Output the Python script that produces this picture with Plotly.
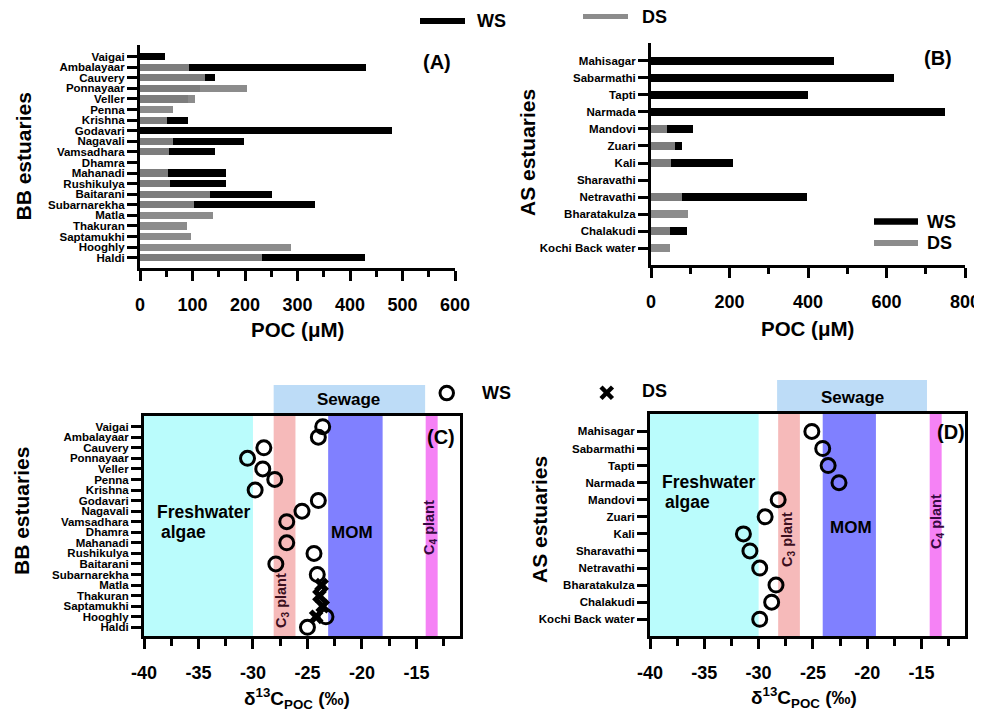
import plotly.graph_objects as go

# ---------------- data ----------------
bb_estuaries = ["Vaigai", "Ambalayaar", "Cauvery", "Ponnayaar", "Veller", "Penna", "Krishna",
                "Godavari", "Nagavali", "Vamsadhara", "Dhamra", "Mahanadi", "Rushikulya",
                "Baitarani", "Subarnarekha", "Matla", "Thakuran", "Saptamukhi", "Hooghly", "Haldi"]
bb_poc_ws = [48, 431, 142, 115, 91, None, 91, 480, 199, 142, None, 163, 164, 252, 334,
             None, None, None, None, 429]
bb_poc_ds = [None, 93, 123, 204, 105, 63, 51, None, 62, 56, None, 54, 57, 133, 102,
             139, 90, 98, 288, 232]

as_estuaries = ["Mahisagar", "Sabarmathi", "Tapti", "Narmada", "Mandovi", "Zuari", "Kali",
                "Sharavathi", "Netravathi", "Bharatakulza", "Chalakudi", "Kochi Back water"]
as_poc_ws = [467, 620, 400, 750, 107, 78, 209, None, 398, None, 91, None]
as_poc_ds = [None, None, None, None, 42, 62, 52, None, 78, 95, 48, 48]

bb_d13c_ws = [-23.6, -24.0, -29.0, -30.5, -29.1, -28.0, -29.8, -24.0, -25.5, -26.9, None,
              -26.9, -24.4, -27.9, -24.1, None, None, None, -23.3, -25.0]
bb_d13c_ds = [None, None, None, None, None, None, None, None, None, None, None,
              None, None, None, None, -23.7, -23.9, -23.6, -24.2, None]
as_d13c_ws = [-25.1, -24.1, -23.6, -22.6, -28.2, -29.4, -31.4, -30.8, -29.9, -28.4, -28.8, -29.9]

d13c_tick_values = [-40, -35, -30, -25, -20, -15]
d13c_tick_labels = ["-40", "-35", "-30", "-25", "-20", "-15"]

# end-member source ranges (d13C, ‰) for panels C and D
source_names = ["Freshwater", "C3", "MOM", "C4"]
source_colors = ["#bafcfc", "#f6baba", "#8080ff", "#f582f5"]
c_source_min = [-40, -28.1, -23.1, -14.15]
c_source_max = [-30, -26.1, -18.1, -13.05]
d_source_min = [-40, -28.2, -24.1, -14.25]
d_source_max = [-30, -26.2, -19.2, -13.15]
c_sewage = [-28.1, -14.2]
d_sewage = [-28.3, -14.5]

# ---------------- helpers ----------------
# the page body has an 8 px margin, so the figure starts at (8, 8) in the window
OFF = 8
W, H = 982 - OFF, 713 - OFF
def px(x):
    return (x - OFF) / W
def py(y):
    return 1 - (y - OFF) / H

FONT = "Liberation Sans"
BLACK = "black"
DS_GRAY = "rgba(133,133,133,0.94)"

fig = go.Figure()

# Panel A bars
fig.add_trace(go.Bar(y=bb_estuaries, x=bb_poc_ws, orientation="h", width=0.68,
                     marker=dict(color=BLACK, line=dict(width=0)),
                     xaxis="x", yaxis="y", showlegend=False, name="WS"))
fig.add_trace(go.Bar(y=bb_estuaries, x=bb_poc_ds, orientation="h", width=0.68,
                     marker=dict(color=DS_GRAY, line=dict(width=0)),
                     xaxis="x", yaxis="y", showlegend=False, name="DS"))
# Panel B bars
fig.add_trace(go.Bar(y=as_estuaries, x=as_poc_ws, orientation="h", width=0.45,
                     marker=dict(color=BLACK, line=dict(width=0)),
                     xaxis="x2", yaxis="y2", showlegend=False, name="WS"))
fig.add_trace(go.Bar(y=as_estuaries, x=as_poc_ds, orientation="h", width=0.45,
                     marker=dict(color=DS_GRAY, line=dict(width=0)),
                     xaxis="x2", yaxis="y2", showlegend=False, name="DS"))
# Panel C points
fig.add_trace(go.Scatter(x=bb_d13c_ds, y=bb_estuaries, mode="markers",
                         marker=dict(symbol="x", size=13, color=BLACK, line=dict(width=0)),
                         xaxis="x3", yaxis="y3", showlegend=False, name="DS"))
fig.add_trace(go.Scatter(x=bb_d13c_ws, y=bb_estuaries, mode="markers",
                         marker=dict(symbol="circle-open", size=14, color=BLACK, line=dict(width=3)),
                         xaxis="x3", yaxis="y3", showlegend=False, name="WS"))
# Panel D points
fig.add_trace(go.Scatter(x=as_d13c_ws, y=as_estuaries, mode="markers",
                         marker=dict(symbol="circle-open", size=14, color=BLACK, line=dict(width=3)),
                         xaxis="x4", yaxis="y4", showlegend=False, name="WS"))

tickfont_bar_x = dict(family=FONT, size=18, color=BLACK, weight="bold")
tickfont_cat = dict(family=FONT, size=11.5, color=BLACK, weight="bold")

common_x = dict(showgrid=False, zeroline=False, showline=True, linewidth=3, linecolor=BLACK,
                ticks="outside", ticklen=10, tickwidth=3, tickcolor=BLACK,
                ticklabelstandoff=8, automargin=False)
common_y = dict(showgrid=False, zeroline=False, showline=True, linewidth=3, linecolor=BLACK,
                ticks="outside", ticklen=10, tickwidth=3, tickcolor=BLACK,
                type="category", categoryorder="array", tickfont=tickfont_cat,
                tickmode="array", automargin=False)

fig.update_layout(
    width=W, height=H, margin=dict(l=0, r=0, t=0, b=0, pad=0, autoexpand=False),
    paper_bgcolor="white", plot_bgcolor="white",
    barmode="overlay", bargap=0,
    font=dict(family=FONT, color=BLACK),
    xaxis=dict(domain=[px(140), px(455)], anchor="y", range=[0, 600], tick0=0, dtick=100,
               tickfont=tickfont_bar_x,
               minor=dict(tick0=0, dtick=50, ticks="outside", ticklen=6, tickwidth=3,
                          tickcolor=BLACK, showgrid=False),
               **common_x),
    yaxis=dict(domain=[py(268), py(45)], anchor="x", range=[-0.97, 20.1],
               categoryarray=bb_estuaries[::-1], tickvals=bb_estuaries, ticktext=bb_estuaries,
               **common_y),
    xaxis2=dict(domain=[px(651), px(965)], anchor="y2", range=[0, 800], tick0=0, dtick=200,
                tickfont=tickfont_bar_x,
                minor=dict(tick0=0, dtick=100, ticks="outside", ticklen=6, tickwidth=3,
                           tickcolor=BLACK, showgrid=False),
                **common_x),
    yaxis2=dict(domain=[py(265), py(43)], anchor="x2", range=[-0.98, 12.04],
                categoryarray=as_estuaries[::-1], tickvals=as_estuaries, ticktext=as_estuaries,
                **common_y),
    xaxis3=dict(domain=[px(144), px(460)], anchor="y3", range=[-40, -11], mirror=True,
                tickmode="array", tickvals=d13c_tick_values, ticktext=d13c_tick_labels,
                tickfont=tickfont_bar_x,
                minor=dict(tickmode="linear", tick0=-40, dtick=2.5, ticks="outside", ticklen=7,
                           tickwidth=3, tickcolor=BLACK, showgrid=False),
                **common_x),
    yaxis3=dict(domain=[py(636), py(416)], anchor="x3", range=[-0.82, 20.01], mirror=True,
                categoryarray=bb_estuaries[::-1], tickvals=bb_estuaries, ticktext=bb_estuaries,
                **common_y),
    xaxis4=dict(domain=[px(650), px(965)], anchor="y4", range=[-40, -11], mirror=True,
                tickmode="array", tickvals=d13c_tick_values, ticktext=d13c_tick_labels,
                tickfont=tickfont_bar_x,
                minor=dict(tickmode="linear", tick0=-40, dtick=2.5, ticks="outside", ticklen=7,
                           tickwidth=3, tickcolor=BLACK, showgrid=False),
                **common_x),
    yaxis4=dict(domain=[py(636), py(414)], anchor="x4", range=[-0.98, 12.02], mirror=True,
                categoryarray=as_estuaries[::-1], tickvals=as_estuaries, ticktext=as_estuaries,
                **common_y),
)

shapes = []
# source bands
for xa, ya, smin, smax in (("x3", "y3", c_source_min, c_source_max),
                           ("x4", "y4", d_source_min, d_source_max)):
    for name, col, a, b in zip(source_names, source_colors, smin, smax):
        shapes.append(dict(type="rect", xref=xa, yref=ya + " domain", x0=a, x1=b, y0=0, y1=1,
                           fillcolor=col, line=dict(width=0), layer="below"))
shapes.append(dict(type="rect", xref="x3", yref="paper", x0=c_sewage[0], x1=c_sewage[1],
                   y0=py(414.5), y1=py(385), fillcolor="#bddcf7", line=dict(width=0), layer="below"))
shapes.append(dict(type="rect", xref="x4", yref="paper", x0=d_sewage[0], x1=d_sewage[1],
                   y0=py(412.5), y1=py(380), fillcolor="#bddcf7", line=dict(width=0), layer="below"))

# legend samples
def hline(x0, x1, y, color, w):
    return dict(type="line", xref="paper", yref="paper", x0=px(x0), x1=px(x1), y0=py(y), y1=py(y),
                line=dict(color=color, width=w))
shapes.append(hline(420, 465, 21, BLACK, 6))
shapes.append(hline(583, 628, 16.5, "#8c8c8c", 5))
shapes.append(hline(874, 918, 221.5, BLACK, 6.5))
shapes.append(hline(874, 918, 243, "#8c8c8c", 6))
shapes.append(dict(type="circle", xref="paper", yref="paper", x0=px(440), x1=px(453.5),
                   y0=py(399.8), y1=py(386.3), line=dict(color=BLACK, width=3)))
shapes.append(dict(type="line", xref="paper", yref="paper", x0=px(601), x1=px(612.5),
                   y0=py(387), y1=py(398.5), line=dict(color=BLACK, width=4.5)))
shapes.append(dict(type="line", xref="paper", yref="paper", x0=px(601), x1=px(612.5),
                   y0=py(398.5), y1=py(387), line=dict(color=BLACK, width=4.5)))
fig.update_layout(shapes=shapes)

ann = []
def text(x, y, s, size, xanchor="center", angle=0, color=BLACK, bold=True):
    ann.append(dict(x=px(x), y=py(y), xref="paper", yref="paper", text=s, showarrow=False,
                    xanchor=xanchor, yanchor="middle", textangle=angle,
                    font=dict(family=FONT, size=size, color=color,
                              weight="bold" if bold else "normal")))

# axis titles
text(23.5, 157, "BB estuaries", 21, angle=-90)
text(528, 153, "AS estuaries", 21, angle=-90)
text(21, 511, "BB estuaries", 21, angle=-90)
text(539, 520, "AS estuaries", 21, angle=-90)
text(297.5, 329, "POC (μM)", 20.5)
text(807.5, 328, "POC (μM)", 20.5)
text(297, 698, "δ<sup>13</sup>C<sub>POC</sub> (‰)", 19)
text(804, 697, "δ<sup>13</sup>C<sub>POC</sub> (‰)", 19)
# panel letters
text(437, 62, "(A)", 20)
text(938, 58, "(B)", 20)
text(441, 437, "(C)", 20)
text(951, 432, "(D)", 20)
# legends
text(475, 21.5, "WS", 18, xanchor="left")
text(640, 17, "DS", 18, xanchor="left")
text(925, 221.5, "WS", 18, xanchor="left")
text(925, 243, "DS", 18, xanchor="left")
text(480, 393.3, "WS", 18, xanchor="left")
text(640, 391.5, "DS", 18, xanchor="left")
# source labels panel C
text(155, 512, "Freshwater", 17.5, xanchor="left")
text(159, 532, "algae", 17.5, xanchor="left")
text(352, 532, "MOM", 17)
text(348, 399, "Sewage", 17)
text(282, 601, "C<sub>3</sub> plant", 14.5, angle=-90, color="#3c0f1e")
text(430, 528, "C<sub>4</sub> plant", 14.5, angle=-90, color="#360a40")
# source labels panel D
text(660, 482, "Freshwater", 17.5, xanchor="left")
text(663, 502, "algae", 17.5, xanchor="left")
text(851, 527, "MOM", 17)
text(852, 397, "Sewage", 17)
text(788, 540, "C<sub>3</sub> plant", 14.5, angle=-90, color="#3c0f1e")
text(937, 522, "C<sub>4</sub> plant", 14.5, angle=-90, color="#360a40")
fig.update_layout(annotations=ann)

fig.write_html("out.html")
